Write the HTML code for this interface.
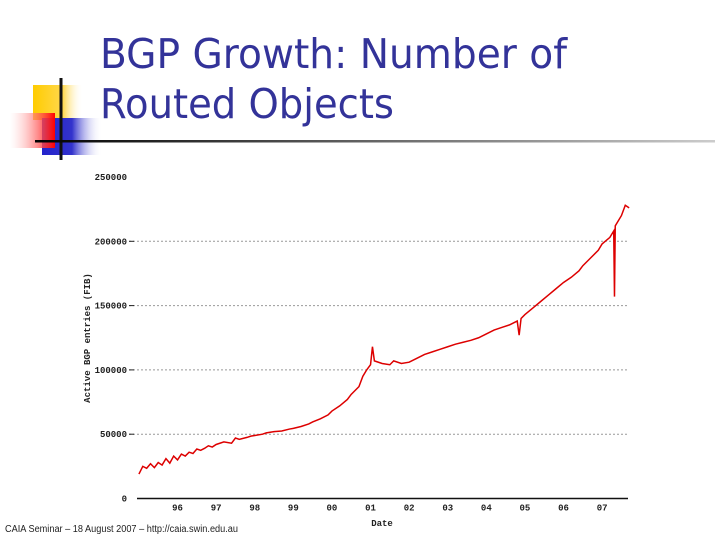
<!DOCTYPE html>
<html><head><meta charset="utf-8"><style>
body{margin:0;background:#fff;width:720px;height:540px;overflow:hidden;font-family:"Liberation Sans",sans-serif}
svg{position:absolute;left:0;top:0}
</style></head><body>
<svg width="720" height="540">
<defs>
<linearGradient id="gy" x1="0" x2="1"><stop offset="0" stop-color="#ffcc00"/><stop offset="0.6" stop-color="#ffd84d"/><stop offset="1" stop-color="#fff" stop-opacity="0"/></linearGradient>
<linearGradient id="gr" x1="1" x2="0"><stop offset="0" stop-color="#ff0000"/><stop offset="1" stop-color="#fff" stop-opacity="0.3"/></linearGradient>
<linearGradient id="gb" x1="0" x2="1"><stop offset="0" stop-color="#2222cc"/><stop offset="0.5" stop-color="#3333cc"/><stop offset="1" stop-color="#fff" stop-opacity="0"/></linearGradient>
<linearGradient id="gl" x1="0" x2="1"><stop offset="0" stop-color="#000"/><stop offset="0.5" stop-color="#666"/><stop offset="1" stop-color="#ccc"/></linearGradient>
</defs>
<g>
<rect x="33" y="85" width="50" height="35" fill="url(#gy)"/>
<rect x="42" y="118" width="60" height="37" fill="url(#gb)"/>
<rect x="10" y="113" width="45" height="35" fill="url(#gr)"/>
<line x1="61" y1="78" x2="61" y2="160" stroke="#111" stroke-width="3"/>
<rect x="35" y="140" width="680" height="2.5" fill="url(#gl)"/>
</g>
<text x="100" y="68" font-family="'DejaVu Sans',sans-serif" font-size="41" fill="#333399" textLength="467" lengthAdjust="spacingAndGlyphs">BGP Growth: Number of</text>
<text x="100" y="118" font-family="'DejaVu Sans',sans-serif" font-size="41" fill="#333399" textLength="294" lengthAdjust="spacingAndGlyphs">Routed Objects</text>
<g id="chart" font-family="'Liberation Mono',monospace" font-size="9" font-weight="bold" fill="#222"></g>
<text x="5" y="532" font-size="10" fill="#222" textLength="233" lengthAdjust="spacingAndGlyphs">CAIA Seminar – 18 August 2007 – http://caia.swin.edu.au</text>
</svg>
<script>
const yTicks=[0,50000,100000,150000,200000,250000];
const yTickLabels=["0","50000","100000","150000","200000","250000"];
const xTicks=[1996,1997,1998,1999,2000,2001,2002,2003,2004,2005,2006,2007];
const xTickLabels=["96","97","98","99","00","01","02","03","04","05","06","07"];
const dates=[1995.0,1995.1,1995.2,1995.3,1995.4,1995.5,1995.6,1995.7,1995.8,1995.9,1996.0,1996.1,1996.2,1996.3,1996.4,1996.5,1996.6,1996.7,1996.8,1996.9,1997.0,1997.2,1997.4,1997.5,1997.6,1997.8,1997.9,1998.0,1998.2,1998.3,1998.5,1998.7,1998.9,1999.0,1999.2,1999.4,1999.5,1999.7,1999.9,2000.0,2000.2,2000.4,2000.5,2000.7,2000.8,2000.9,2001.0,2001.05,2001.1,2001.3,2001.5,2001.6,2001.8,2002.0,2002.2,2002.4,2002.6,2002.8,2003.0,2003.2,2003.4,2003.6,2003.8,2004.0,2004.2,2004.4,2004.6,2004.8,2004.85,2004.9,2005.0,2005.2,2005.4,2005.6,2005.8,2006.0,2006.2,2006.4,2006.5,2006.7,2006.9,2007.0,2007.2,2007.3,2007.32,2007.34,2007.4,2007.5,2007.6,2007.7];
const counts=[19000,25000,23500,27000,24000,28000,26000,31000,27500,33000,30000,34500,33000,36000,35000,38500,37500,39000,41000,40000,42000,44000,43000,47000,46000,47500,48500,49000,50000,51000,52000,52500,54000,54500,56000,58000,59500,62000,65000,68000,72000,77000,81000,87000,95000,100000,104000,118000,107000,105000,104000,107000,105000,106000,109000,112000,114000,116000,118000,120000,121500,123000,125000,128000,131000,133000,135000,138000,127000,140000,143000,148000,153000,158000,163000,168000,172000,177000,181000,187000,193000,198000,203000,208000,157000,212000,215000,220000,228000,226000];
const chart=document.getElementById('chart');
const NS='http://www.w3.org/2000/svg';
const X0=137,X1=628,Y0=498.5,YT=177;
const xs=d=>X0+(d-1994.95)*38.6;
const ys=v=>Y0-(v/250000)*(Y0-YT);
function mk(t,a){const e=document.createElementNS(NS,t);for(const k in a)e.setAttribute(k,a[k]);chart.appendChild(e);return e;}
yTicks.forEach((v,i)=>{
  if(v>0&&v<250000){const g=mk('line',{x1:X0-8,x2:X1,y1:ys(v),y2:ys(v),stroke:'#999','stroke-dasharray':'2,2','stroke-width':1});
  
  
  mk('line',{x1:X0-8,x2:X0-3,y1:ys(v),y2:ys(v),stroke:'#222'});}
  const t=mk('text',{x:X0-10,y:ys(v)+3,'text-anchor':'end'});t.textContent=yTickLabels[i];
  
  
});
const ax=mk('line',{x1:X0,x2:X1,y1:Y0,y2:Y0,stroke:'#111','stroke-width':1.5});


xTicks.forEach((d,i)=>{const t=mk('text',{x:xs(d),y:Y0+12,'text-anchor':'middle'});t.textContent=xTickLabels[i];
  
  });
const xt=mk('text',{x:382,y:526,'text-anchor':'middle'});xt.textContent='Date';


const yt=mk('text',{x:0,y:0,transform:'translate(90,338) rotate(-90)','text-anchor':'middle'});yt.textContent='Active BGP entries (FIB)';


const p=mk('polyline',{points:dates.map((d,i)=>xs(d)+','+ys(counts[i])).join(' '),fill:'none',stroke:'#dd0000','stroke-width':1.5});


</script>
</body></html>
